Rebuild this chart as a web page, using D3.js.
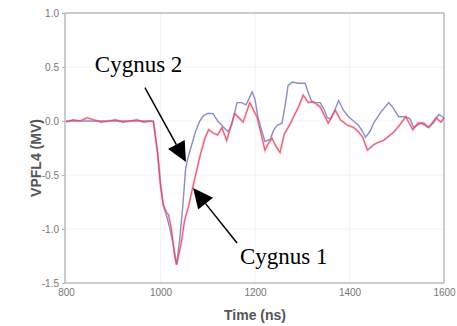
<!DOCTYPE html>
<html>
<head>
  <meta charset="utf-8">
  <script src="https://d3js.org/d3.v7.min.js"></script>
  <style>
    body { margin: 0; background: #fff; font-family: Arial, "Liberation Sans", sans-serif; }
    .tick-label { fill: #777; font-size: 10px; }
    .axis-title { fill: #555; font-size: 14px; font-weight: bold; }
    .note { font-family: "Liberation Serif", "Times New Roman", serif; font-size: 23px; fill: #000; }
  </style>
</head>
<body>
  <div id="chart"></div>
  <script>
    // time (ns) / value (MV)
    const cygnus2Time = [800, 985, 994, 1000, 1006, 1013, 1019, 1026, 1034, 1040, 1047, 1053, 1057, 1066, 1074, 1083, 1091, 1100, 1111, 1121, 1132, 1143, 1151, 1162, 1172, 1181, 1194, 1200, 1206, 1215, 1221, 1232, 1240, 1247, 1257, 1264, 1270, 1279, 1291, 1306, 1313, 1321, 1338, 1347, 1353, 1360, 1366, 1377, 1387, 1398, 1406, 1419, 1428, 1434, 1443, 1451, 1466, 1483, 1491, 1504, 1519, 1528, 1536, 1551, 1566, 1577, 1589, 1600];
    const cygnus2Value = [0.0, 0.0, -0.3, -0.58, -0.78, -0.88, -0.98, -1.12, -1.33, -1.12, -0.8, -0.45, -0.36, -0.22, -0.1, 0.0, 0.05, 0.07, 0.07, 0.0, -0.05, -0.1, -0.03, 0.17, 0.17, 0.15, 0.27, 0.2, 0.04, -0.1, -0.19, -0.17, -0.08, -0.04, -0.02, 0.15, 0.33, 0.36, 0.35, 0.35, 0.26, 0.17, 0.17, 0.1, 0.03, 0.02, 0.07, 0.19, 0.1, 0.04, 0.01, -0.04, -0.1, -0.15, -0.1, -0.02, 0.08, 0.17, 0.13, 0.04, 0.04, 0.02, -0.06, -0.02, -0.06, -0.02, 0.06, 0.03];

    const cygnus1Time = [800, 815, 830, 845, 860, 875, 890, 905, 920, 935, 950, 965, 980, 985, 994, 1000, 1006, 1013, 1017, 1023, 1030, 1034, 1043, 1051, 1060, 1068, 1077, 1085, 1094, 1102, 1111, 1121, 1130, 1140, 1149, 1157, 1166, 1175, 1189, 1204, 1213, 1221, 1228, 1236, 1245, 1253, 1262, 1270, 1275, 1292, 1302, 1313, 1323, 1338, 1347, 1355, 1370, 1381, 1396, 1409, 1419, 1428, 1438, 1451, 1460, 1472, 1492, 1504, 1519, 1534, 1545, 1557, 1568, 1583, 1594, 1600];
    const cygnus1Value = [-0.01, 0.01, 0.0, 0.03, 0.01, -0.01, 0.0, 0.01, -0.01, 0.0, 0.01, -0.01, 0.0, -0.01, -0.3, -0.6, -0.78, -0.85, -0.87, -1.0, -1.25, -1.33, -1.15, -0.92, -0.78, -0.62, -0.45, -0.3, -0.16, -0.08, -0.11, -0.13, -0.06, -0.18, -0.05, 0.07, 0.03, -0.01, 0.17, 0.04, -0.12, -0.27, -0.21, -0.16, -0.24, -0.29, -0.12, -0.06, -0.02, 0.13, 0.24, 0.17, 0.18, 0.13, 0.05, -0.02, 0.1, 0.01, -0.04, -0.06, -0.1, -0.15, -0.27, -0.22, -0.2, -0.18, -0.11, -0.05, 0.04, -0.08, -0.02, -0.02, -0.06, 0.03, -0.01, 0.03];

    const xTicks = [800, 1000, 1200, 1400, 1600];
    const yTicks = [1.0, 0.5, 0.0, -0.5, -1.0, -1.5];

    // annotations: label position and arrow (from -> tip) in data units
    const notes = [
      { text: "Cygnus 2", at: [861, 0.45], from: [967, 0.31], tip: [1054, -0.38] },
      { text: "Cygnus 1", at: [1168, -1.32], from: [1162, -1.13], tip: [1069, -0.62] }
    ];

    const W = 457, H = 326;
    const plot = { left: 65, right: 444, top: 13, bottom: 283 };

    const svg = d3.select("#chart").append("svg")
      .attr("width", W).attr("height", H);

    const x = d3.scaleLinear().domain([800, 1600]).range([plot.left + 1, plot.right]);
    const y = d3.scaleLinear().domain([-1.5, 1.0]).range([plot.bottom, plot.top]);

    // faint grid
    svg.append("g").selectAll("line")
      .data(xTicks.slice(1, -1))
      .join("line")
        .attr("x1", d => x(d)).attr("x2", d => x(d))
        .attr("y1", plot.top).attr("y2", plot.bottom)
        .attr("stroke", "#f2f2f2");
    svg.append("g").selectAll("line")
      .data(yTicks.slice(1, -1))
      .join("line")
        .attr("x1", plot.left).attr("x2", plot.right)
        .attr("y1", d => y(d)).attr("y2", d => y(d))
        .attr("stroke", "#f2f2f2");

    // frame
    svg.append("rect")
      .attr("x", plot.left).attr("y", plot.top)
      .attr("width", plot.right - plot.left).attr("height", plot.bottom - plot.top)
      .attr("fill", "none").attr("stroke", "#aaa").attr("stroke-width", 1.2);

    // axes
    const yAxis = svg.append("g")
      .attr("transform", `translate(${plot.left},0)`)
      .call(d3.axisLeft(y).tickValues(yTicks).tickFormat(d => d.toFixed(1)).tickSize(3).tickPadding(3));
    const xAxis = svg.append("g")
      .attr("transform", `translate(0,${plot.bottom})`)
      .call(d3.axisBottom(x).tickValues(xTicks).tickFormat(d3.format("d")).tickSize(0).tickPadding(6));
    [xAxis, yAxis].forEach(g => {
      g.select(".domain").remove();
      g.selectAll("line").attr("stroke", "#bbb");
      g.selectAll("text").attr("class", "tick-label").attr("font-family", null).attr("font-size", null).attr("fill", null);
    });

    svg.append("text")
      .attr("class", "axis-title")
      .attr("transform", `translate(41,${(plot.top + plot.bottom) / 2 + 10}) rotate(-90)`)
      .attr("text-anchor", "middle")
      .text("VPFL4 (MV)");
    svg.append("text")
      .attr("class", "axis-title")
      .attr("x", 255).attr("y", 320)
      .attr("text-anchor", "middle")
      .text("Time (ns)");

    const line = d3.line().x(d => x(d[0])).y(d => y(d[1]));
    const blue = d3.zip(cygnus2Time, cygnus2Value);
    const red = d3.zip(cygnus1Time, cygnus1Value);

    svg.append("path")
      .datum(blue)
      .attr("fill", "none")
      .attr("stroke", "#8a8dc8")
      .attr("stroke-width", 1.4)
      .attr("d", line);

    svg.append("path")
      .datum(red)
      .attr("fill", "none")
      .attr("stroke", "#ee8a9a")
      .attr("stroke-opacity", 0.4)
      .attr("stroke-width", 2.6)
      .attr("d", line);
    svg.append("path")
      .datum(red)
      .attr("fill", "none")
      .attr("stroke", "#df3b58")
      .attr("stroke-opacity", 0.8)
      .attr("stroke-width", 1.1)
      .attr("d", line);

    // annotations
    const headLen = 20, headHalf = 9.5;
    notes.forEach(n => {
      const x0 = x(n.from[0]), y0 = y(n.from[1]);
      const x1 = x(n.tip[0]), y1 = y(n.tip[1]);
      const len = Math.hypot(x1 - x0, y1 - y0);
      const ux = (x1 - x0) / len, uy = (y1 - y0) / len;
      const bx = x1 - ux * headLen, by = y1 - uy * headLen;
      svg.append("line")
        .attr("x1", x0).attr("y1", y0).attr("x2", bx).attr("y2", by)
        .attr("stroke", "#000").attr("stroke-width", 1.5);
      svg.append("path")
        .attr("d", `M${x1},${y1}L${bx - uy * headHalf},${by + ux * headHalf}L${bx + uy * headHalf},${by - ux * headHalf}Z`)
        .attr("fill", "#000");
      svg.append("text")
        .attr("class", "note")
        .attr("x", x(n.at[0])).attr("y", y(n.at[1]))
        .text(n.text);
    });
  </script>
</body>
</html>
